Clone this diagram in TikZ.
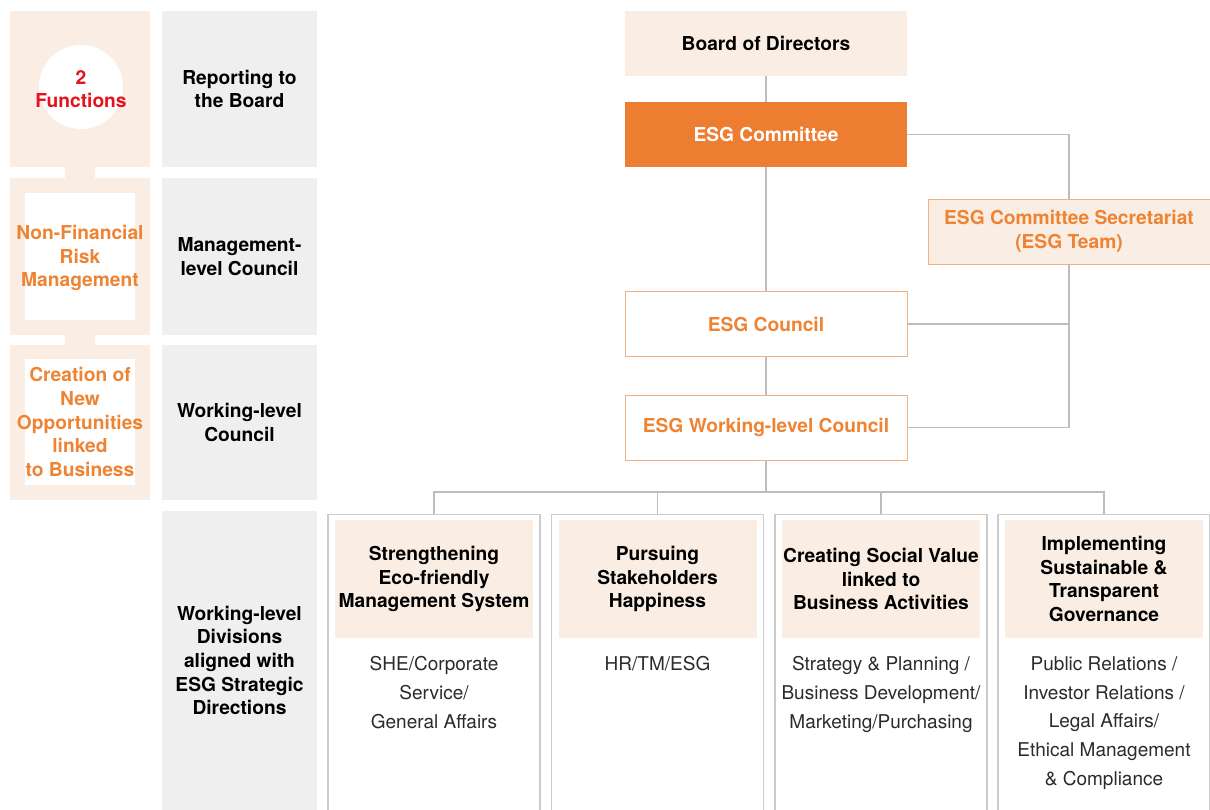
\documentclass[tikz,border=0pt]{standalone}
\usepackage{fontspec}
\setmainfont{TeX Gyre Heros}
\usepackage{tikz}
\usepackage{xcolor}
\usetikzlibrary{positioning}

\definecolor{esgbeige}{HTML}{FAEEE4}
\definecolor{esgorange}{HTML}{ED7D31}
\definecolor{esgtxt}{HTML}{EE8433}
\definecolor{esgred}{HTML}{E5131D}
\definecolor{esggray}{HTML}{EFEFEF}
\definecolor{esgline}{HTML}{BDBDBD}
\definecolor{esgedge}{HTML}{F4B183}
\definecolor{esgframe}{HTML}{CCCCCC}
\definecolor{esgbody}{HTML}{2B2B2B}

\begin{document}
\begin{tikzpicture}[x=1pt, y=-1pt,
        every node/.style={inner sep=0pt},
        titletext/.style={font=\fontsize{19.2}{23.6}\selectfont\bfseries, align=center},
        bodytext/.style={font=\fontsize{19}{28.8}\selectfont, text=esgbody, align=center},
        fnbox/.style={fill=esgbeige, minimum width=140pt},
        lvlbox/.style={titletext, fill=esggray, minimum width=155pt},
        orgbox/.style={titletext, minimum width=282pt, minimum height=65pt},
        divbox/.style={draw=esgframe, line width=1.2pt, fill=white, minimum width=212pt, minimum height=301pt, anchor=north},
        headbox/.style={titletext, fill=esgbeige, minimum width=198pt, minimum height=118pt},
        conn/.style={draw=esgline, line width=1.3pt}]
        \useasboundingbox (0,0) rectangle (1210,810);

        \node[fnbox, minimum height=156pt] (fn1) at (80,89) {};
        \node[fnbox, minimum height=157pt] (fn2) at (80,256.5) {};
        \node[fnbox, minimum height=155pt] (fn3) at (80,422.5) {};
        \draw[esgbeige, line width=30pt] (fn1) -- (fn2)
            (fn2) -- (fn3);
        \node[circle, fill=white, minimum size=84pt] (fnc) at (81,87) {};
        \node[titletext, text=esgred] (fnctxt) at (81,89) {2\\Functions};
        \node[fill=white, minimum width=110pt, minimum height=127pt] (fn2in) at (80,256.5) {};
        \node[titletext, text=esgtxt] (fn2txt) at (80,258) {Non-Financial\\Risk\\Management};
        \node[fill=white, minimum width=110pt, minimum height=126pt] (fn3in) at (80,422) {};
        \node[titletext, text=esgtxt] (fn3txt) at (fn3in) {Creation of\\New\\Opportunities\\linked\\to Business};

        \node[lvlbox, minimum height=156pt] (lv1) at (239.5,89) {Reporting to\\the Board};
        \node[lvlbox, minimum height=157pt] (lv2) at (239.5,256.5) {Management-\\level Council};
        \node[lvlbox, minimum height=155pt] (lv3) at (239.5,422.5) {Working-level\\Council};
        \node[lvlbox, minimum height=299pt] (lv4) at (239.5,660.5) {Working-level\\Divisions\\aligned with\\ESG Strategic\\Directions};

        \node[orgbox, fill=esgbeige] (board) at (766,43.5) {Board of Directors};
        \node[orgbox, fill=esgorange, text=white] (cmte) at (766,134.5) {ESG Committee};
        \node[orgbox, fill=esgbeige, draw=esgedge, text=esgtxt] (secr) at (1069,231.5) {ESG Committee Secretariat\\(ESG Team)};
        \node[orgbox, fill=white, draw=esgedge, text=esgtxt] (cncl) at (766,324) {ESG Council};
        \node[orgbox, fill=white, draw=esgedge, text=esgtxt] (wcncl) at (766,427.5) {ESG Working-level Council};
        \coordinate (bus) at (766,492);

        \node[divbox] (dvA) at (434,514) {};
        \node[headbox] (hdA) at (434,579) {Strengthening\\Eco-friendly\\Management System};
        \node[bodytext, below=18pt of hdA] (txA) {SHE/Corporate\\Service/\\General Affairs};
        \node[divbox] (dvB) at (657.5,514) {};
        \node[headbox] (hdB) at (657.5,579) {Pursuing\\Stakeholders\\Happiness};
        \node[bodytext, below=18pt of hdB] (txB) {HR/TM/ESG};
        \node[divbox] (dvC) at (881,514) {};
        \node[headbox] (hdC) at (881,579) {Creating Social Value\\linked to\\Business Activities};
        \node[bodytext, below=18pt of hdC] (txC) {Strategy \& Planning /\\Business Development/\\Marketing/Purchasing};
        \node[divbox] (dvD) at (1104,514) {};
        \node[headbox] (hdD) at (1104,579) {Implementing\\Sustainable \&\\Transparent\\Governance};
        \node[bodytext, below=18pt of hdD] (txD) {Public Relations /\\Investor Relations /\\Legal Affairs/\\Ethical Management\\\& Compliance};

        \draw[conn] (board) -- (cmte)
            (cmte) -- (cncl)
            (cncl) -- (wcncl)
            (wcncl) -- (bus)
            (cmte.east) -| (secr.north)
            (secr.south) |- (wcncl.east)
            (cncl.east) -- (cncl.east -| secr.south);
        \draw[conn] (bus) -| (dvA.north)
            (bus) -| (dvB.north)
            (bus) -| (dvC.north)
            (bus) -| (dvD.north);
    \end{tikzpicture}
\end{document}
